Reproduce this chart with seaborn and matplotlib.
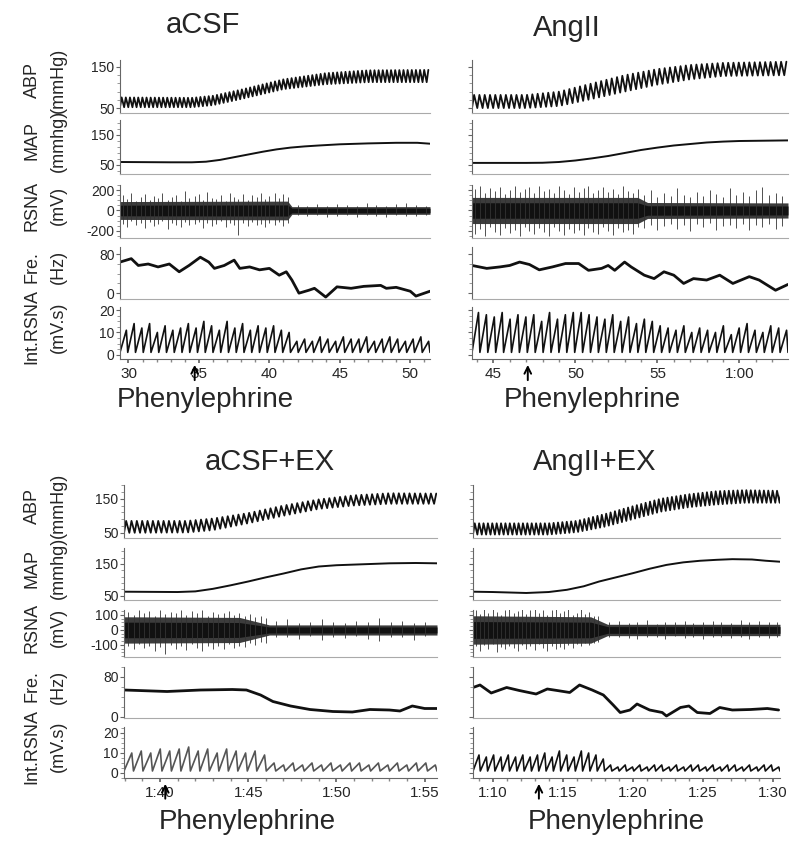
import numpy as np
import pandas as pd
import matplotlib
matplotlib.use("Agg")
import matplotlib.pyplot as plt
from matplotlib.ticker import MultipleLocator, FuncFormatter, AutoMinorLocator
import seaborn as sns

# ---------------- values (time in s) ----------------
# aCSF
acsf_xlim = (29.4, 51.4)
acsf_arrow = 34.7
acsf_abp_rate = 3.4
acsf_abp_t = [29.4, 34.5, 36.0, 38.0, 41.0, 44.0, 47.0, 51.4]
acsf_abp_sys = [76, 75, 80, 95, 120, 135, 142, 143]
acsf_abp_dia = [52, 52, 57, 72, 96, 108, 113, 113]
acsf_map_t = [29.4, 33.0, 34.5, 35.5, 36.5, 37.5, 38.5, 39.5, 40.5, 41.5, 42.5, 43.5, 45.0, 47.0, 49.0, 50.5, 51.4]
acsf_map = [60, 59, 59, 61, 67, 76, 85, 94, 102, 108, 112, 115, 119, 122, 124, 124, 121]
acsf_core_t = [29.4, 41.3, 41.6, 51.4]
acsf_core = [65, 68, 28, 28]
# (time, low, high) of the tallest RSNA deflections
acsf_spikes = [(29.6, -130, 150), (29.9, -160, 110), (30.2, -105, 170), (30.5, -140, 95), (30.9, -120, 130),
               (31.2, -170, 160), (31.5, -110, 100), (31.8, -150, 140), (32.1, -135, 120), (32.4, -100, 175),
               (32.8, -180, 105), (33.1, -125, 130), (33.4, -140, 150), (33.7, -160, 90), (34.0, -110, 190),
               (34.3, -145, 120), (34.7, -130, 140), (35.0, -115, 165), (35.3, -170, 100), (35.6, -120, 185),
               (35.9, -150, 125), (36.2, -135, 110), (36.6, -105, 150), (36.9, -165, 95), (37.2, -125, 170),
               (37.5, -140, 130), (37.8, -240, 115), (38.1, -120, 160), (38.5, -155, 100), (38.8, -110, 150),
               (39.1, -145, 135), (39.4, -130, 170), (39.7, -160, 110), (40.0, -120, 145), (40.4, -140, 175),
               (40.7, -115, 120), (41.0, -150, 160), (41.3, -125, 130),
               (42.0, -45, 55), (42.7, -55, 45), (43.4, -40, 60), (44.1, -60, 40), (44.8, -50, 65),
               (45.5, -45, 50), (46.2, -65, 45), (46.9, -40, 70), (47.6, -55, 55), (48.3, -60, 40),
               (49.0, -45, 60), (49.7, -50, 75), (50.4, -55, 50), (51.1, -40, 45)]
acsf_fre_t = [29.4, 30.2, 30.7, 31.4, 32.1, 32.9, 33.6, 34.3, 35.1, 35.7, 36.1, 36.8, 37.5, 37.9, 38.6,
              39.3, 40.0, 40.7, 41.2, 41.6, 42.1, 42.8, 43.2, 44.0, 44.8, 45.8, 46.7, 47.9, 48.3, 49.0,
              50.0, 50.4, 51.4]
acsf_fre = [64, 71, 57, 60, 54, 60, 44, 57, 74, 64, 51, 57, 68, 51, 54,
            48, 51, 37, 44, 27, 0, 6, 10, -8, 13, 10, 14, 16, 10, 12,
            4, -6, 4]
acsf_int = [11, 14, 12, 14, 10, 13, 11, 12, 14, 12, 15, 13, 11, 15, 12, 14, 11, 13, 12, 13, 11, 10,
            6, 7, 6, 8, 7, 6, 8, 7, 7, 8, 6, 7, 8, 7, 6, 7, 8, 6]

# AngII
angii_xlim = (43.7, 62.96)
angii_arrow = 47.1
angii_abp_rate = 3.1
angii_abp_t = [43.7, 47.0, 49.0, 51.0, 53.0, 55.0, 57.0, 59.0, 62.96]
angii_abp_sys = [82, 82, 90, 110, 130, 145, 155, 160, 163]
angii_abp_dia = [50, 50, 55, 72, 90, 107, 120, 128, 130]
angii_map_t = [43.7, 47.0, 48.0, 49.0, 50.0, 51.0, 52.0, 53.0, 54.0, 55.0, 56.0, 57.0, 58.0, 59.0, 60.0, 61.5, 62.96]
angii_map = [57, 57, 57.5, 60, 65, 72, 80, 90, 100, 108, 115, 120, 125, 128, 130, 131, 132]
angii_core_t = [43.7, 53.8, 54.4, 62.96]
angii_core = [95, 95, 58, 55]
angii_spikes = [(43.9, -230, 210), (44.2, -180, 240), (44.5, -250, 170), (44.8, -160, 220), (45.1, -210, 190),
                (45.4, -240, 235), (45.7, -170, 160), (46.0, -220, 200), (46.3, -190, 240), (46.6, -250, 180),
                (46.9, -160, 215), (47.2, -200, 230), (47.5, -235, 170), (47.8, -175, 240), (48.1, -215, 190),
                (48.4, -250, 210), (48.7, -165, 175), (49.0, -205, 240), (49.3, -240, 200), (49.6, -180, 165),
                (49.9, -220, 235), (50.2, -195, 185), (50.5, -245, 220), (50.8, -170, 240), (51.1, -210, 175),
                (51.4, -230, 205), (51.7, -160, 230), (52.0, -200, 185), (52.3, -240, 215), (52.6, -175, 160),
                (52.9, -215, 240), (53.2, -190, 195), (53.5, -230, 170), (53.8, -165, 210),
                (54.2, -170, 150), (54.6, -140, 200), (55.0, -190, 130), (55.4, -150, 175), (55.8, -130, 140),
                (56.2, -180, 220), (56.6, -145, 150), (57.0, -200, 130), (57.4, -135, 185), (57.8, -160, 145),
                (58.2, -125, 200), (58.6, -190, 160), (59.0, -150, 135), (59.4, -140, 220), (59.8, -175, 150),
                (60.2, -130, 180), (60.6, -195, 140), (61.0, -145, 205), (61.4, -160, 230), (61.8, -135, 150),
                (62.2, -180, 170), (62.6, -150, 140)]
angii_fre_t = [43.7, 44.6, 45.4, 46.0, 46.6, 47.2, 47.8, 48.6, 49.4, 50.2, 50.8, 51.6, 52.0, 52.4, 53.0,
               53.4, 54.2, 54.8, 55.4, 56.0, 56.6, 57.2, 58.0, 58.8, 59.6, 60.6, 61.2, 62.2, 62.96]
angii_fre = [57, 51, 54, 57, 64, 59, 48, 54, 61, 61, 47, 51, 57, 47, 64,
             54, 37, 30, 44, 37, 20, 30, 27, 37, 20, 34, 27, 6, 18]
angii_int = [19, 18, 17, 19, 16, 18, 17, 18, 15, 19, 16, 18, 19,
             19, 18, 17, 16, 18, 15, 17, 14, 16, 15, 13,
             12, 11, 13, 10, 12, 11, 10, 13, 9, 12, 14, 11, 10, 13, 12, 11]

# aCSF+EX
acsfex_xlim = (97.96, 115.7)
acsfex_arrow = 100.3
acsfex_abp_rate = 3.3
acsfex_abp_t = [97.96, 101.5, 103.0, 105.0, 107.0, 109.0, 111.0, 113.0, 115.7]
acsfex_abp_sys = [85, 85, 92, 108, 130, 148, 160, 166, 165]
acsfex_abp_dia = [50, 51, 58, 78, 100, 120, 130, 135, 135]
acsfex_map_t = [97.96, 101.0, 102.0, 103.0, 104.0, 105.0, 106.0, 107.0, 108.0, 109.0, 110.0, 111.0, 112.0,
                113.0, 114.5, 115.7]
acsfex_map = [63, 62, 64, 72, 83, 95, 108, 120, 133, 142, 146, 148, 150, 152, 153, 152]
acsfex_core_t = [97.96, 104.5, 106.2, 115.7]
acsfex_core = [65, 62, 25, 25]
acsfex_spikes = [(98.2, -110, 120), (98.5, -130, 100), (98.8, -95, 130), (99.1, -120, 110), (99.4, -105, 125),
                 (99.7, -140, 95), (100.0, -115, 130), (100.3, -160, 105), (100.6, -100, 120), (100.9, -125, 115),
                 (101.2, -110, 130), (101.5, -135, 100), (101.8, -95, 125), (102.1, -120, 110), (102.4, -140, 130),
                 (102.7, -105, 95), (103.0, -125, 120), (103.3, -110, 105), (103.6, -130, 115), (103.9, -95, 125),
                 (104.2, -120, 100), (104.5, -105, 110), (104.8, -115, 90), (105.1, -90, 105), (105.4, -100, 85),
                 (105.7, -80, 95), (106.0, -85, 80),
                 (106.6, -50, 60), (107.2, -45, 70), (107.9, -60, 45), (108.5, -40, 55), (109.2, -70, 75),
                 (109.8, -45, 50), (110.5, -55, 45), (111.1, -40, 60), (111.8, -60, 50), (112.4, -75, 80),
                 (113.1, -45, 55), (113.7, -50, 60), (114.4, -65, 45), (115.0, -40, 55)]
acsfex_fre_t = [97.96, 100.4, 102.3, 104.1, 104.9, 105.7, 106.4, 107.4, 108.5, 109.8, 110.9, 111.9,
                113.0, 113.6, 114.3, 115.0, 115.7]
acsfex_fre = [54, 51, 54, 55, 54, 44, 31, 22, 15, 11, 10, 15, 14, 12, 22, 17, 17]
acsfex_int = [10, 11, 10, 12, 11, 12, 13, 11, 12, 10, 12, 11, 10, 11, 9,
              5, 4, 5, 4, 5, 4, 5, 4, 5, 5, 4, 5, 4, 5, 4, 5, 5, 4]

# AngII+EX
angiiex_xlim = (68.6, 90.5)
angiiex_arrow = 73.3
angiiex_abp_rate = 3.2
angiiex_abp_t = [68.6, 74.0, 76.0, 78.0, 80.0, 82.0, 84.0, 86.0, 88.0, 90.5]
angiiex_abp_sys = [78, 78, 85, 105, 128, 150, 163, 172, 175, 173]
angiiex_abp_dia = [45, 45, 52, 68, 90, 112, 125, 133, 138, 138]
angiiex_map_t = [68.6, 70.0, 72.4, 74.0, 75.3, 76.5, 77.6, 78.8, 80.0, 81.2, 82.4, 83.6, 84.8, 86.0, 87.1,
                 88.5, 89.5, 90.5]
angiiex_map = [63, 62, 59, 62, 69, 80, 95, 108, 121, 135, 147, 155, 160, 163, 165, 164, 160, 157]
angiiex_core_t = [68.6, 77.0, 78.2, 90.5]
angiiex_core = [70, 65, 28, 28]
angiiex_spikes = [(68.8, -110, 130), (69.1, -140, 105), (69.4, -100, 150), (69.7, -125, 115), (70.0, -95, 140),
                  (70.3, -145, 120), (70.6, -115, 100), (70.9, -130, 135), (71.2, -105, 150), (71.5, -120, 110),
                  (71.8, -140, 125), (72.1, -100, 140), (72.4, -125, 105), (72.7, -110, 130), (73.0, -135, 150),
                  (73.3, -95, 115), (73.6, -120, 135), (73.9, -140, 100), (74.2, -105, 130), (74.5, -125, 145),
                  (74.8, -115, 110), (75.1, -130, 125), (75.4, -100, 140), (75.7, -120, 100), (76.0, -95, 115),
                  (76.3, -110, 150), (76.6, -90, 105), (76.9, -100, 120), (77.2, -85, 95), (77.5, -80, 90),
                  (78.3, -50, 55), (79.0, -45, 60), (79.7, -55, 45), (80.3, -60, 50), (81.0, -45, 65),
                  (81.7, -50, 40), (82.3, -60, 55), (83.0, -40, 50), (83.7, -55, 60), (84.3, -45, 45),
                  (85.0, -60, 55), (85.7, -50, 60), (86.3, -45, 50), (87.0, -55, 45), (87.7, -50, 65),
                  (88.3, -60, 55), (89.0, -45, 60), (89.7, -55, 50), (90.3, -50, 55)]
angiiex_fre_t = [68.6, 69.1, 69.9, 71.0, 71.9, 73.1, 73.9, 74.6, 75.5, 76.2, 77.1, 77.9, 78.6, 79.1,
                 79.8, 80.3, 81.2, 82.1, 82.4, 83.4, 84.0, 84.6, 85.5, 86.2, 87.1, 88.4, 89.6, 90.4]
angiiex_fre = [59, 64, 48, 59, 53, 46, 56, 53, 49, 64, 54, 44, 24, 9,
               14, 26, 14, 9, 2, 19, 22, 9, 7, 19, 14, 15, 17, 14]
angiiex_int = [9, 8, 9, 8, 9, 8, 9, 8, 9, 10, 8, 11, 9, 8, 11, 10, 9, 7,
               4, 3, 4, 3, 4, 3, 4, 4, 3, 4, 3, 4, 4, 3, 4, 3, 4, 4, 3, 4, 3, 4, 4, 3]

titles = ["aCSF", "AngII", "aCSF+EX", "AngII+EX"]
row_names = ["ABP", "MAP", "RSNA", "Fre.", "Int.RSNA"]
row_units = ["(mmHg)", "(mmhg)", "(mV)", "(Hz)", "(mV.s)"]

# ---------------- layout (pixels of an 800x844 canvas) ----------------
W, H = 800, 844
col_x = [(120, 430), (472, 788), (124, 437), (473, 780)]
rows_top = [(60, 113), (120, 174), (185, 238), (247, 299), (307, 359)]
rows_bot = [(485, 538), (548, 600), (610, 657), (667, 718), (727, 778)]
ylims_top = [(38, 167), (20, 200), (-270, 250), (-12, 95), (-2, 21.5)]
ylims_bot = [(35, 190), (37, 200), (-180, 133), (-2, 100), (-2.5, 23)]
yticks_top = [[50, 150], [50, 150], [-200, 0, 200], [0, 80], [0, 10, 20]]
yticks_bot = [[50, 150], [50, 150], [-100, 0, 100], [0, 80], [0, 10, 20]]
title_pos = [(203, 25), (567, 28), (270, 462), (595, 462)]
phe_pos = [(205, 400), (592, 400), (247, 822), (616, 822)]

sns.set_theme(style="ticks")
plt.rcParams["font.family"] = ["Liberation Sans", "DejaVu Sans"]
plt.rcParams["axes.linewidth"] = 0.8
plt.rcParams["axes.unicode_minus"] = False

panels = [
    (acsf_xlim, acsf_arrow, acsf_abp_rate, acsf_abp_t, acsf_abp_sys, acsf_abp_dia, acsf_map_t, acsf_map,
     acsf_core_t, acsf_core, acsf_spikes, acsf_fre_t, acsf_fre, acsf_int),
    (angii_xlim, angii_arrow, angii_abp_rate, angii_abp_t, angii_abp_sys, angii_abp_dia, angii_map_t, angii_map,
     angii_core_t, angii_core, angii_spikes, angii_fre_t, angii_fre, angii_int),
    (acsfex_xlim, acsfex_arrow, acsfex_abp_rate, acsfex_abp_t, acsfex_abp_sys, acsfex_abp_dia, acsfex_map_t,
     acsfex_map, acsfex_core_t, acsfex_core, acsfex_spikes, acsfex_fre_t, acsfex_fre, acsfex_int),
    (angiiex_xlim, angiiex_arrow, angiiex_abp_rate, angiiex_abp_t, angiiex_abp_sys, angiiex_abp_dia,
     angiiex_map_t, angiiex_map, angiiex_core_t, angiiex_core, angiiex_spikes, angiiex_fre_t, angiiex_fre,
     angiiex_int),
]


def fmt_time(v, pos):
    v = int(round(v))
    if v < 60:
        return str(v)
    return f"{v // 60}:{v % 60:02d}"


fig = plt.figure(figsize=(8, 8.44), dpi=100)

for p, (xlim, arrow_t, rate, abp_t, sys_v, dia_v, map_t, map_v, core_t, core_v,
        spikes, fre_t, fre_v, int_pk) in enumerate(panels):
    x0, x1 = col_x[p]
    rows = rows_top if p < 2 else rows_bot
    ylims = ylims_top if p < 2 else ylims_bot
    yticks = yticks_top if p < 2 else yticks_bot
    axes = []
    for r, (y0, y1) in enumerate(rows):
        ax = fig.add_axes([x0 / W, 1 - y1 / H, (x1 - x0) / W, (y1 - y0) / H])
        axes.append(ax)

    # ABP: beat by beat between diastolic and systolic envelopes
    beats = np.arange(xlim[0], xlim[1], 1 / rate)
    bt = np.column_stack([beats, beats + 0.4 / rate]).ravel()
    bv = np.column_stack([np.interp(beats, abp_t, dia_v),
                          np.interp(beats + 0.4 / rate, abp_t, sys_v)]).ravel()
    sns.lineplot(x=bt, y=bv, ax=axes[0], color="#111", lw=1.3, estimator=None, sort=False)

    # MAP
    sns.lineplot(x=map_t, y=map_v, ax=axes[1], color="#111", lw=1.4, estimator=None, sort=False)

    # RSNA: dark fringe, dense black core, then the tallest deflections
    core = np.array(core_v, dtype=float)
    axes[2].fill_between(core_t, -1.35 * core, 1.35 * core, color="#3c3c3c", lw=0)
    axes[2].fill_between(core_t, -0.8 * core, 0.8 * core, color="#111", lw=0)
    st, slo, shi = zip(*spikes)
    axes[2].vlines(st, slo, shi, color="#333", lw=0.6)

    # Fre.
    sns.lineplot(x=fre_t, y=fre_v, ax=axes[3], color="#111", lw=2.0, estimator=None, sort=False)

    # Int.RSNA: integrator ramps and resets
    n = len(int_pk)
    per = (xlim[1] - xlim[0]) / n
    it, iv = [], []
    for i, pk in enumerate(int_pk):
        it += [xlim[0] + i * per, xlim[0] + (i + 0.82) * per]
        iv += [1.0, pk]
    it.append(xlim[1])
    iv.append(1.0)
    icol = "#555" if p == 2 else "#111"
    sns.lineplot(x=it, y=iv, ax=axes[4], color=icol, lw=1.2, estimator=None, sort=False)

    for r, ax in enumerate(axes):
        ax.set_xlim(*xlim)
        ax.set_ylim(*ylims[r])
        ax.set_xlabel("")
        ax.set_ylabel("")
        ax.set_facecolor("none")
        sns.despine(ax=ax)
        ax.spines["left"].set_color("#666")
        ax.spines["bottom"].set_color("#aaa")
        ax.set_yticks(yticks[r])
        ax.yaxis.set_minor_locator(AutoMinorLocator(5 if r < 2 else 4))
        ax.tick_params(axis="y", which="major", length=3, width=0.8, color="#666",
                       labelsize=10, pad=1, labelleft=(p % 2 == 0))
        ax.tick_params(axis="y", which="minor", length=2, width=0.6, color="#888")
        if r < 4:
            ax.tick_params(axis="x", which="both", bottom=False, labelbottom=False)
        else:
            ax.spines["bottom"].set_color("#666")
            ax.xaxis.set_major_locator(MultipleLocator(5))
            ax.xaxis.set_minor_locator(MultipleLocator(1))
            ax.xaxis.set_major_formatter(FuncFormatter(fmt_time))
            ax.tick_params(axis="x", which="major", length=3, color="#666", labelsize=11, pad=3)
            ax.tick_params(axis="x", which="minor", length=2, color="#888")
            ax.annotate("", xy=(arrow_t, -0.06), xytext=(arrow_t, -0.46),
                        xycoords=("data", "axes fraction"), textcoords=("data", "axes fraction"),
                        arrowprops=dict(arrowstyle="->", color="black", lw=1.4))

    if p % 2 == 0:
        for r, (y0, y1) in enumerate(rows):
            yc = (y0 + y1) / 2 - 6
            fig.text(32 / W, 1 - yc / H, row_names[r], rotation=90, ha="center", va="center", fontsize=13)
            fig.text(58 / W, 1 - yc / H, row_units[r], rotation=90, ha="center", va="center", fontsize=13)

    tx, ty = title_pos[p]
    fig.text(tx / W, 1 - ty / H, titles[p], ha="center", va="center", fontsize=21)
    px, py = phe_pos[p]
    fig.text(px / W, 1 - py / H, "Phenylephrine", ha="center", va="center", fontsize=20)

fig.savefig("out.png", dpi=100)
